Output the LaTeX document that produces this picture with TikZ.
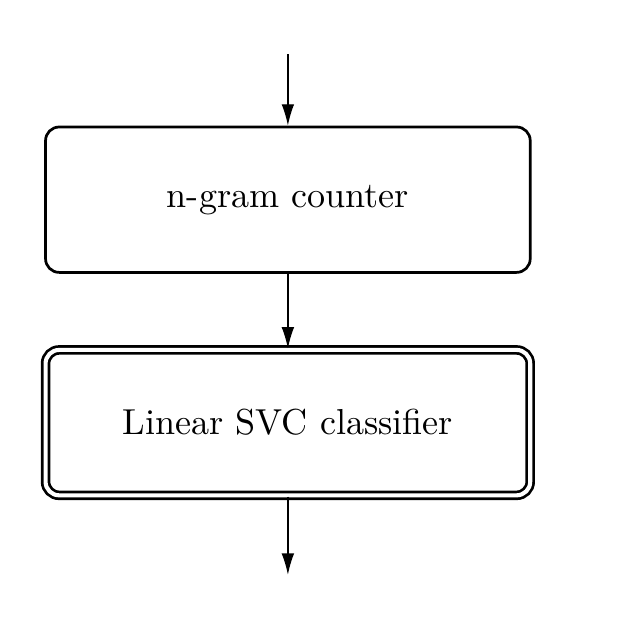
\documentclass[tikz,border=0pt]{standalone}
\usepackage{tikz}
\usetikzlibrary{arrows.meta}

\begin{document}
\begin{tikzpicture}
\useasboundingbox (-2.97,2.06) rectangle (3.55,-4.31);
%\tikzstyle{stage}=[rectangle,rounded corners,draw,thick]
\begin{scope}[every node/.style={rectangle,rounded corners,draw,thick,minimum width=5cm,minimum height=1.5cm,font=\fontsize{10.6pt}{13pt}\selectfont}]
    \node (ngram) at (0,0) {n-gram counter};
    \node[double,double distance=1.2pt] (svc) at (0,-2.3) {Linear SVC classifier};
\end{scope}

\coordinate (in) at (0,1.5);
\coordinate (out) at (0,-3.87);

\begin{scope}[>={Latex[length=2.2mm,width=1.3mm]}]
    \path [->] (in) edge (ngram);
    \path [->] (ngram) edge (svc);
    \path [->] (svc) edge (out);
\end{scope}
\end{tikzpicture}
\end{document}
